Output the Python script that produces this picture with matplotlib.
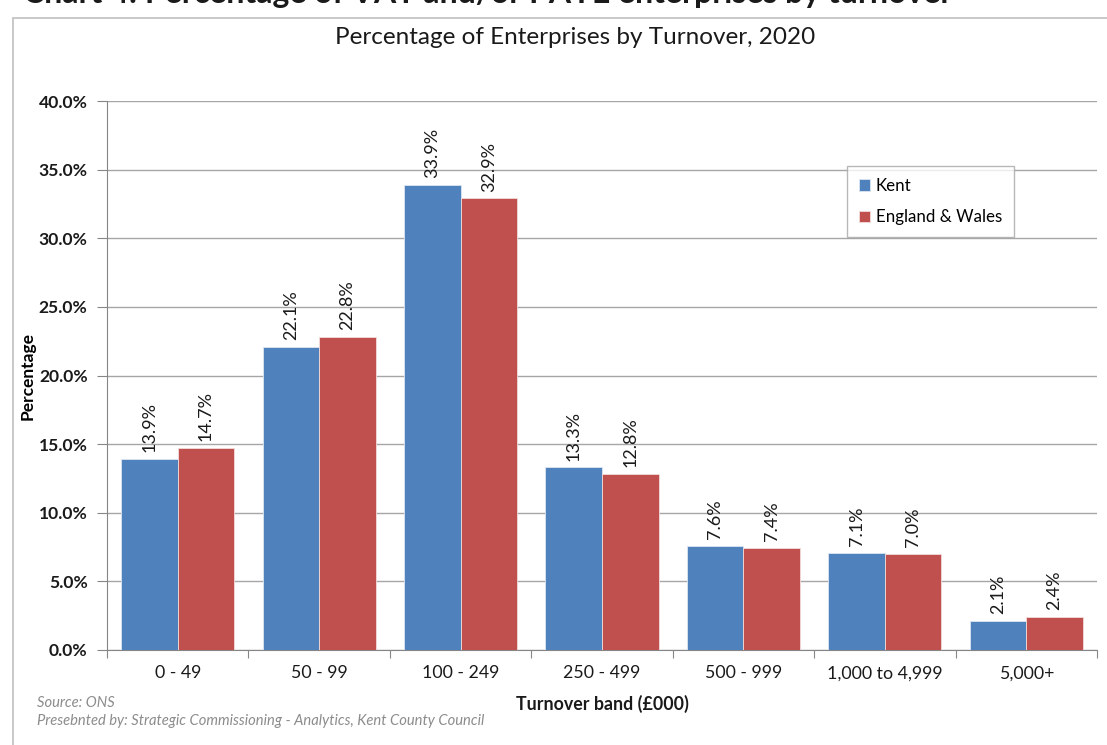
import numpy as np
import matplotlib.pyplot as plt
from matplotlib.patches import Rectangle
from matplotlib.ticker import FuncFormatter

bands = ["0 - 49", "50 - 99", "100 - 249", "250 - 499", "500 - 999",
         "1,000 to 4,999", "5,000+"]
kent = [13.9, 22.1, 33.9, 13.3, 7.6, 7.1, 2.1]
eng_wales = [14.7, 22.8, 32.9, 12.8, 7.4, 7.0, 2.4]

KENT_BLUE = "#4F81BD"
EW_RED = "#C0504D"
GRID = "#A6A6A6"

plt.rcParams["font.family"] = ["Lato", "DejaVu Sans"]

fig = plt.figure(figsize=(11.07, 7.45), dpi=100)
W, H = 1107, 745

# document heading, cut off by the top of the page
fig.text(0.441, 1 + 6 / H, "Chart 4: Percentage of VAT and/or PAYE enterprises by turnover",
         ha="center", va="center", fontsize=23, fontweight="bold", color="#1a1a1a")

# chart frame
fig.patches.append(Rectangle((13 / W, -0.1), 1.2, (H - 18) / H + 0.1,
                             transform=fig.transFigure, fill=False,
                             edgecolor="#BFBFBF", lw=1.2, zorder=0))

ax = fig.add_axes([107 / W, 1 - 650 / H, (1097 - 107) / W, (650 - 101) / H])

x = np.arange(len(bands))
bw = 0.4
b1 = ax.bar(x - bw / 2, kent, bw, color=KENT_BLUE, edgecolor="#DCE6F2",
            lw=0.6, label="Kent", zorder=3)
b2 = ax.bar(x + bw / 2, eng_wales, bw, color=EW_RED, edgecolor="#F2DCDB",
            lw=0.6, label="England & Wales", zorder=3)

for bars in (b1, b2):
    for rect in bars:
        v = rect.get_height()
        ax.annotate(f"{v:.1f}%", (rect.get_x() + rect.get_width() / 2, v),
                    xytext=(0, 5), textcoords="offset points",
                    ha="center", va="bottom", rotation=90, fontsize=13,
                    color="#1a1a1a", zorder=4)

ax.set_xlim(-0.5, len(bands) - 0.5)
ax.set_ylim(0, 40)
ax.set_yticks(np.arange(0, 40.1, 5))
ax.yaxis.set_major_formatter(FuncFormatter(lambda v, _: f"{v:.1f}%"))
ax.grid(axis="y", color=GRID, lw=1.0, zorder=0)
ax.set_axisbelow(True)

ax.set_xticks(np.arange(-0.5, len(bands), 1.0), minor=False)
ax.set_xticklabels([])
ax.set_xticks(x, minor=True)
ax.set_xticklabels(bands, minor=True, fontsize=12.8, color="#1a1a1a")
ax.tick_params(axis="x", which="major", length=6, color="#868686", direction="out")
ax.tick_params(axis="x", which="minor", length=0, pad=11)
ax.tick_params(axis="y", length=7, color="#868686", direction="out", pad=7,
               labelsize=12.6, labelcolor="#1a1a1a")
for lab in ax.get_yticklabels():
    lab.set_fontweight("bold")

for side in ("top", "right"):
    ax.spines[side].set_visible(False)
ax.spines["left"].set_color("#868686")
ax.spines["bottom"].set_color("#868686")

ax.set_ylabel("Percentage", fontsize=12.5, fontweight="bold", labelpad=2)

fig.text(602 / W, 1 - 704 / H, "Turnover band (£000)", ha="center", va="center",
         fontsize=12.8, fontweight="bold", color="#1a1a1a")
fig.text(575 / W, 1 - 37 / H, "Percentage of Enterprises by Turnover, 2020",
         ha="center", va="center", fontsize=17.5, color="#1a1a1a")
fig.text(37 / W, 1 - 703 / H, "Source: ONS", ha="left", va="center",
         fontsize=10.6, style="italic", color="#8C8C8C")
fig.text(37 / W, 1 - 721 / H,
         "Presebnted by: Strategic Commissioning - Analytics, Kent County Council",
         ha="left", va="center", fontsize=10.6, style="italic", color="#8C8C8C")

leg = ax.legend(loc="upper left", bbox_to_anchor=((847 - 107) / 990, 1 - (166 - 101) / 549),
                fontsize=12.2, frameon=True, fancybox=False, handlelength=0.65,
                handleheight=0.65, handletextpad=0.35, labelspacing=0.9,
                borderpad=0.7, borderaxespad=0)
leg.get_frame().set_edgecolor("#A6A6A6")
leg.get_frame().set_linewidth(1.0)

fig.savefig("out.png", dpi=100)
